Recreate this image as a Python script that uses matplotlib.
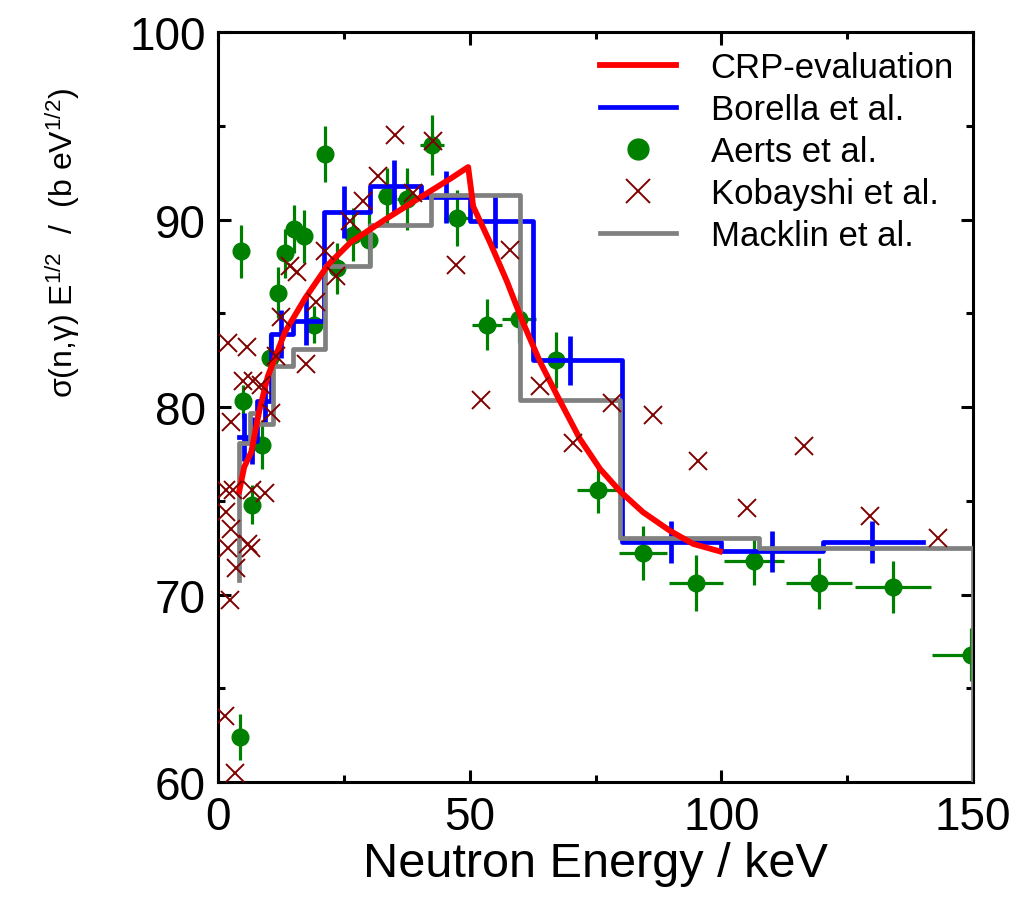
import numpy as np
import matplotlib
matplotlib.use("Agg")
import matplotlib.pyplot as plt
from matplotlib.ticker import MultipleLocator

plt.rcParams["font.family"] = ["Liberation Sans", "DejaVu Sans"]
plt.rcParams["mathtext.fontset"] = "custom"
plt.rcParams["mathtext.rm"] = "Liberation Sans"
plt.rcParams["mathtext.it"] = "Liberation Sans"

# CRP evaluation curve (keV, b eV^1/2)
crp_e = [4.2, 5.2, 6.6, 8.2, 9.9, 13.3, 17.3, 21.9, 26.4, 33.2, 39.7, 46.3, 49.7,
         50.7, 54.0, 57.4, 60.6, 64.0, 67.4, 71.9, 75.9, 79.9, 84.4, 89.8, 94.4, 99.7]
crp_v = [75.5, 76.8, 77.6, 79.8, 81.65, 84.0, 85.8, 87.6, 88.8, 90.0, 91.1, 92.2, 92.8,
         90.7, 88.8, 86.7, 84.5, 82.4, 80.6, 78.3, 76.7, 75.5, 74.4, 73.4, 72.7, 72.3]

# Borella et al. histogram + error bars
bor_edges = [4.2, 6.0, 7.8, 10.6, 14.9, 21.1, 30.1, 40.3, 50.0, 62.6, 80.3, 100.0, 120.2, 140.0]
bor_v = [78.4, 78.2, 80.3, 83.9, 84.6, 90.4, 91.8, 91.2, 89.9, 82.5, 72.8, 72.3, 72.8]
bor_ex = [5.2, 6.8, 9.4, 12.6, 17.4, 25.1, 34.9, 45.2, 55.0, 70.0, 90.0, 110.0, 130.0]
bor_err = [1.3, 1.25, 1.15, 1.3, 1.3, 1.4, 1.4, 1.4, 1.4, 1.3, 1.1, 1.1, 1.1]

# Aerts et al.
aer_e = [4.4, 4.6, 4.9, 6.8, 8.7, 10.3, 11.9, 13.4, 15.1, 17.0, 19.1, 21.3, 23.7, 26.8, 30.0,
         33.5, 37.5, 42.5, 47.4, 53.4, 59.8, 67.2, 75.4, 84.5, 95.0, 106.5, 119.4, 134.1, 149.6]
aer_v = [62.4, 88.3, 80.3, 74.8, 78.0, 82.6, 86.1, 88.2, 89.5, 89.1, 84.4, 93.5, 87.4, 89.2, 88.9,
         91.25, 91.1, 94.0, 90.1, 84.4, 84.7, 82.5, 75.6, 72.2, 70.6, 71.8, 70.6, 70.4, 66.8]
aer_yerr = [1.25, 1.4, 0.9, 1.05, 1.3, 1.3, 1.35, 1.3, 1.3, 1.4, 1.0, 1.5, 1.35, 1.4, 1.4,
            1.5, 1.65, 1.6, 1.5, 1.35, 1.3, 1.5, 1.25, 1.45, 1.5, 1.3, 1.35, 1.4, 1.4]
aer_xerr = [0.2, 0.2, 0.25, 0.3, 0.4, 0.5, 0.6, 0.7, 0.8, 0.9, 1.0, 1.1, 1.2, 1.4, 1.6,
            1.8, 2.0, 2.3, 2.6, 3.0, 3.4, 3.7, 4.0, 4.8, 5.4, 6.0, 6.6, 7.6, 7.8]

# Kobayashi et al.
kob_e = [1.4, 1.6, 1.6, 2.0, 2.0, 2.4, 2.6, 2.6, 3.0, 3.4, 3.6, 5.0, 5.8, 6.0, 6.6, 6.8,
         7.0, 8.5, 9.3, 10.5, 11.5, 12.5, 14.3, 15.7, 17.5, 19.5, 21.3, 23.4, 26.2, 28.8,
         31.8, 35.2, 38.7, 42.7, 47.3, 52.3, 58.0, 64.0, 70.6, 78.3, 86.5, 95.4, 105.1,
         116.4, 129.5, 143.1]
kob_v = [63.5, 75.6, 74.4, 83.4, 72.5, 69.7, 79.2, 73.5, 75.6, 60.5, 71.4, 81.4, 83.2, 72.7,
         72.5, 75.6, 81.4, 81.2, 75.4, 79.7, 82.7, 84.8, 87.5, 87.2, 82.3, 85.6, 88.3, 87.0,
         89.9, 91.0, 92.3, 94.5, 91.4, 94.2, 87.6, 80.4, 88.4, 81.1, 78.1, 80.2, 79.6, 77.1,
         74.6, 77.9, 74.2, 73.0]

# Macklin et al. histogram
mac_edges = [4.1, 6.3, 7.8, 10.9, 14.9, 21.3, 30.2, 42.3, 60.0, 79.9, 107.5, 150.0]
mac_v = [78.1, 79.7, 79.1, 82.2, 83.1, 87.5, 89.7, 91.3, 80.4, 73.0, 72.5]
mac_start = 70.8

fig = plt.figure(figsize=(10.17, 9.2), dpi=100)
ax = fig.add_axes([0.2144, 0.1489, 0.7423, 0.8152])

eb = ax.errorbar(aer_e, aer_v, yerr=aer_yerr, xerr=aer_xerr, fmt="o", color="#008000",
                 ms=12, elinewidth=2.3, capsize=0, zorder=2)

bl, = ax.plot(bor_edges, list(bor_v) + [bor_v[-1]], drawstyle="steps-post",
              color="#0000FF", lw=3.4, zorder=3)
ax.errorbar(bor_ex, bor_v, yerr=bor_err, fmt="none", ecolor="#0000FF",
            elinewidth=3.4, capsize=0, zorder=3)

mx = np.concatenate([[mac_edges[0]], mac_edges, [mac_edges[-1]]])
my = np.concatenate([[mac_start], mac_v, [mac_v[-1], 0]])
ml, = ax.plot(mx, my, drawstyle="steps-post", color="#808080", lw=3.4, zorder=4)

rl, = ax.plot(crp_e, crp_v, color="#FF0000", lw=4.2, zorder=5)

kl, = ax.plot(kob_e, kob_v, "x", color="#800000", ms=13.5, mew=1.4, zorder=6)

ax.set_xlim(0, 150)
ax.set_ylim(60, 100)
ax.xaxis.set_major_locator(MultipleLocator(50))
ax.xaxis.set_minor_locator(MultipleLocator(25))
ax.yaxis.set_major_locator(MultipleLocator(10))
ax.yaxis.set_minor_locator(MultipleLocator(5))
ax.tick_params(which="both", direction="in", top=True, right=True, width=2.2)
ax.tick_params(which="major", length=9, labelsize=33, pad=9)
ax.tick_params(which="minor", length=5)
for sp in ax.spines.values():
    sp.set_linewidth(2.2)

ax.set_xlabel("Neutron Energy / keV", fontsize=35, labelpad=2)
ax.set_ylabel("σ(n,γ) E$^{1/2}$  /  (b eV$^{1/2}$)", fontsize=23)
ax.yaxis.set_label_coords(-0.18, 0.72)

ax.legend([rl, bl, eb[0], kl, ml],
          ["CRP-evaluation", "Borella et al.", "Aerts et al.", "Kobayshi et al.", "Macklin et al."],
          loc="upper right", frameon=False, fontsize=25, handlelength=2.2,
          handletextpad=1.0, labelspacing=0.26, borderaxespad=0.15, markerscale=1.25)

fig.savefig("out.png", dpi=100)
